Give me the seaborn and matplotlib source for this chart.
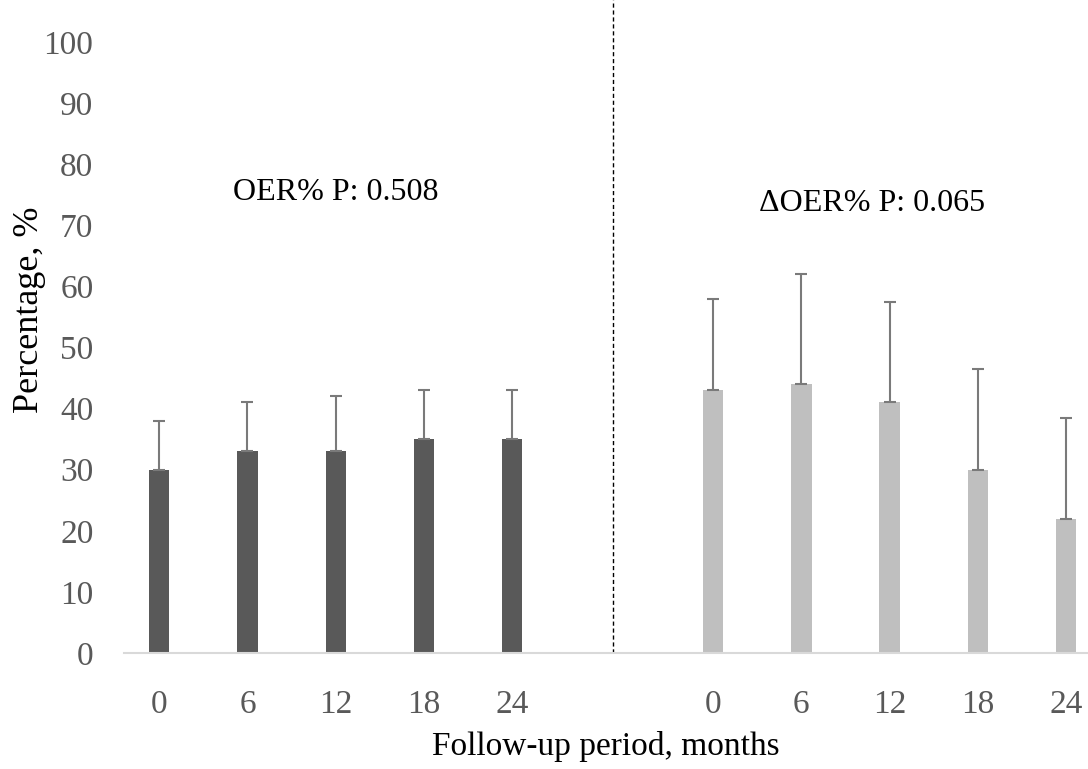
import numpy as np
import pandas as pd
import matplotlib
matplotlib.use("Agg")
import matplotlib.pyplot as plt
import seaborn as sns

# Follow-up months and per-visit values for the two panels
months = ["0", "6", "12", "18", "24"]
oer_mean = [30, 33, 33, 35, 35]
oer_sd = [8, 8, 9, 8, 8]
doer_mean = [43, 44, 41, 30, 22]
doer_sd = [15, 18, 16.5, 16.5, 16.5]

oer_label = "OER% P: 0.508"
doer_label = "\u0394OER% P: 0.065"
y_ticks = list(range(0, 101, 10))

sns.set_theme(style="white")
plt.rcParams["font.family"] = ["Liberation Serif", "DejaVu Serif"]

# Horizontal slots: left panel at 0..4, right panel shifted by a gap
gap = 6.28
pos_left = np.arange(len(months), dtype=float)
pos_right = pos_left + gap

df = pd.DataFrame({
    "pos": np.concatenate([pos_left, pos_right]),
    "value": oer_mean + doer_mean,
    "sd": oer_sd + doer_sd,
    "group": ["OER"] * len(months) + ["dOER"] * len(months),
})

fig = plt.figure(figsize=(10.88, 7.69), dpi=100)
ax = fig.add_axes([124 / 1088, 1 - 653 / 769, 1 - 124 / 1088, (653 - 42) / 769])

sns.barplot(data=df, x="pos", y="value", hue="group", native_scale=True,
            palette={"OER": "#595959", "dOER": "#bfbfbf"}, width=0.23,
            dodge=False, legend=False, errorbar=None, ax=ax, linewidth=0)

# one-sided (upward) error bars
ax.errorbar(df["pos"], df["value"], yerr=[np.zeros(len(df)), df["sd"]],
            fmt="none", ecolor="#7a7a7a", elinewidth=1.5, capsize=4, capthick=1.5)

ax.set_xlim(-0.4, pos_right[-1] + 0.25)
ax.set_ylim(0, 100)
ax.set_yticks(y_ticks)
ax.set_yticklabels([str(t) for t in y_ticks], color="#595959", fontsize=24)
ax.set_xticks(np.concatenate([pos_left, pos_right]))
ax.set_xticklabels(months + months, color="#595959", fontsize=24)
ax.tick_params(axis="both", length=0)
ax.tick_params(axis="x", pad=26)
ax.tick_params(axis="y", pad=22)

for s in ["top", "right", "left"]:
    ax.spines[s].set_visible(False)
ax.spines["bottom"].set_color("#d9d9d9")
ax.spines["bottom"].set_linewidth(1.5)

ax.set_ylabel("")
fig.text(30 / 1088, 1 - 310 / 769, "Percentage, %", rotation=90,
         ha="center", va="center", fontsize=26, color="black")
ax.set_xlabel("Follow-up period, months", fontsize=24, color="black", labelpad=8)

# dashed separator between the two panels
mid = (pos_left[-1] + pos_right[0]) / 2
ax.axvline(mid, ymin=0, ymax=653 / 611, color="black", linestyle=(0, (3, 2)),
           linewidth=1, clip_on=False)

ax.text(2.0, 75.3, oer_label, ha="center", va="center", fontsize=23, color="black")
ax.text(8.08, 73.6, doer_label, ha="center", va="center", fontsize=23, color="black")

fig.savefig("out.png", dpi=100)
